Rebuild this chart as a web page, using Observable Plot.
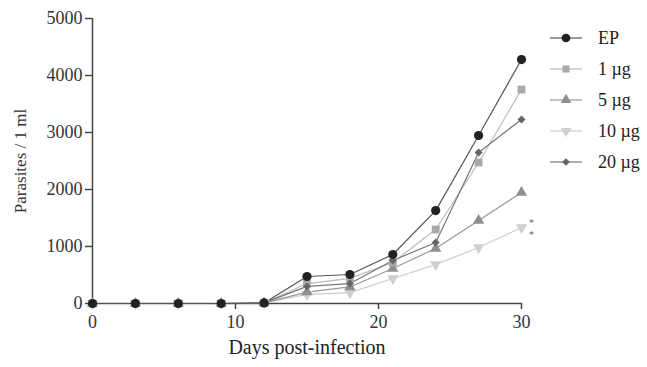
<!DOCTYPE html>
<html>
<head>
<meta charset="utf-8">
<script src="https://cdn.jsdelivr.net/npm/d3@7"></script>
<script src="https://cdn.jsdelivr.net/npm/@observablehq/plot@0.6"></script>
<style>
  html, body { margin: 0; padding: 0; background: #fff; }
</style>
</head>
<body>
<div id="chart"></div>
<script>
const days = [0, 3, 6, 9, 12, 15, 18, 21, 24, 27, 30];
const seriesNames = ["EP", "1 µg", "5 µg", "10 µg", "20 µg"];
const ep   = [0, 0, 0, 0, 10, 474, 509, 860, 1630, 2947, 4280];
const ug1  = [0, 0, 0, 0, 10, 350, 440, 720, 1298, 2474, 3754];
const ug5  = [0, 0, 0, 0, 10, 200, 290, 614, 965, 1456, 1947];
const ug10 = [0, 0, 0, 0, 10, 160, 190, 439, 684, 982, 1333];
const ug20 = [0, 0, 0, 0, 10, 300, 350, 754, 1070, 2650, 3228];
const yTicks = [0, 1000, 2000, 3000, 4000, 5000];
const xTicks = [0, 10, 20, 30];

const styles = {
  "EP":    {values: ep,   symbol: "circle",   rotate: 0,   r: 4.6, fill: "#222", line: "#555"},
  "1 µg":  {values: ug1,  symbol: "square",   rotate: 0,   r: 4.4, fill: "#aaa", line: "#bbb"},
  "5 µg":  {values: ug5,  symbol: "triangle", rotate: 0,   r: 4.2, fill: "#8f8f8f", line: "#999"},
  "10 µg": {values: ug10, symbol: "triangle", rotate: 180, r: 4.2, fill: "#cfcfcf", line: "#ccc"},
  "20 µg": {values: ug20, symbol: "square",   rotate: 45,  r: 3.2, fill: "#666", line: "#777"}
};

const drawOrder = ["10 µg", "5 µg", "1 µg", "20 µg", "EP"];
const marks = [];
for (const name of drawOrder) {
  const s = styles[name];
  const data = days.map((d, i) => ({day: d, value: s.values[i]}));
  marks.push(Plot.line(data, {x: "day", y: "value", stroke: s.line, strokeWidth: 1.2}));
}
for (const name of drawOrder) {
  const s = styles[name];
  const data = days.map((d, i) => ({day: d, value: s.values[i]}));
  marks.push(Plot.dot(data, {x: "day", y: "value", symbol: () => s.symbol, fill: s.fill, r: s.r, rotate: s.rotate, stroke: "none"}));
}

const last10 = [{day: days[days.length - 1], value: ug10[ug10.length - 1]}];

const chart = Plot.plot({
  width: 647,
  height: 367,
  marginLeft: 92,
  marginRight: 126,
  marginTop: 18,
  marginBottom: 64,
  style: {fontFamily: "'Liberation Serif', serif", fontSize: "18px", color: "#333", background: "#fff"},
  x: {domain: [0, 30]},
  y: {domain: [0, 5000]},
  symbol: {type: "identity"},
  marks: [
    Plot.axisX({ticks: xTicks, tickFormat: d => String(d), tickSize: 6, tickPadding: 6, label: null, stroke: "#444", strokeWidth: 1.5, fill: "#333"}),
    Plot.axisY({ticks: yTicks, tickFormat: d => String(d), tickSize: 7, tickPadding: 3, label: null, stroke: "#444", strokeWidth: 1.5, fill: "#333"}),
    Plot.ruleX([0], {stroke: "#444", strokeWidth: 1.5}),
    Plot.ruleY([0], {stroke: "#444", strokeWidth: 1.5}),
    ...marks,
    Plot.text(last10, {x: "day", y: "value", text: () => "*", dx: 10, dy: -5, fontSize: 10, fill: "#666"}),
    Plot.text(last10, {x: "day", y: "value", text: () => "*", dx: 10, dy: 7, fontSize: 10, fill: "#666"}),
    Plot.text(["Days post-infection"], {frameAnchor: "bottom", dy: 50, fontSize: 20, fill: "#222"}),
    Plot.text(["Parasites / 1 ml"], {frameAnchor: "left", textAnchor: "middle", dx: -72, rotate: -90, fontSize: 17, fill: "#333"})
  ]
});

// Legend
const svg = d3.select(chart);
const lg = svg.append("g").attr("font-family", "'Liberation Serif', serif").attr("font-size", 18).attr("text-anchor", "start");
seriesNames.forEach((name, i) => {
  const s = styles[name];
  const y = 38 + i * 31;
  lg.append("line").attr("x1", 550).attr("x2", 582).attr("y1", y).attr("y2", y)
    .attr("stroke", s.line).attr("stroke-width", 1.2);
  const size = name === "20 µg" ? 30 : name === "EP" ? 60 : 50;
  const sym = s.symbol === "circle" ? d3.symbolCircle : s.symbol === "triangle" ? d3.symbolTriangle : d3.symbolSquare;
  lg.append("path").attr("d", d3.symbol(sym, size)())
    .attr("transform", `translate(566,${y}) rotate(${s.rotate})`)
    .attr("fill", s.fill);
  lg.append("text").attr("x", 598).attr("y", y).attr("dy", "0.35em").attr("fill", "#222").text(name);
});

document.getElementById("chart").appendChild(chart);
</script>
</body>
</html>
